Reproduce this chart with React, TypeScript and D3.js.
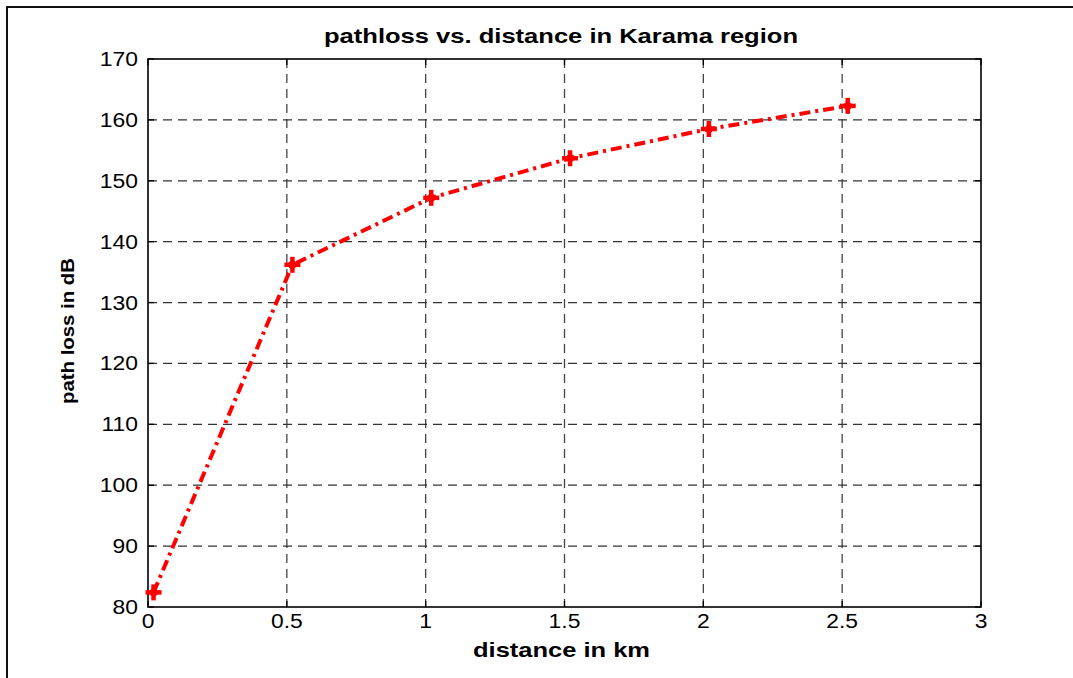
import React from "react";
import * as d3 from "d3";

const distances = [0.02, 0.52, 1.02, 1.52, 2.02, 2.52];
const pathLoss = [82.4, 136.2, 147.2, 153.7, 158.5, 162.3];
const xTicks = [0, 0.5, 1, 1.5, 2, 2.5, 3];
const yTicks = [80, 90, 100, 110, 120, 130, 140, 150, 160, 170];
const xTickLabels = ["0", "0.5", "1", "1.5", "2", "2.5", "3"];
const titleText = "pathloss vs. distance in Karama region";
const xLabelText = "distance in km";
const yLabelText = "path loss in dB";

const W = 1073;
const H = 678;
const L = 148, R = 981, T = 59, B = 607;

export default function App() {
  const x = d3.scaleLinear().domain([0, 3]).range([L, R]);
  const y = d3.scaleLinear().domain([80, 170]).range([B, T]);
  const line = d3.line<number>().x((_, i) => x(distances[i])).y((d) => y(d));
  const font = "'Liberation Sans', Arial, sans-serif";
  const sx = 1.09;

  return (
    <svg width={W} height={H} style={{ position: "absolute", left: 0, top: 0 }}>
      <rect x={0} y={0} width={W} height={H} fill="#fff" />
      <rect x={7} y={7} width={W + 20} height={H + 20} fill="none" stroke="#111" strokeWidth={2} />
      {/* grid */}
      {xTicks.slice(1, -1).map((t) => (
        <line key={"gx" + t} x1={x(t)} x2={x(t)} y1={T} y2={B} stroke="#444" strokeWidth={1.3} strokeDasharray="9,6" />
      ))}
      {yTicks.slice(1, -1).map((t) => (
        <line key={"gy" + t} x1={L} x2={R} y1={y(t)} y2={y(t)} stroke="#333" strokeWidth={1.3} strokeDasharray="9,6" />
      ))}
      {/* ticks */}
      {xTicks.map((t) => (
        <g key={"tx" + t}>
          <line x1={x(t)} x2={x(t)} y1={B} y2={B - 6} stroke="#000" strokeWidth={1.3} />
          <line x1={x(t)} x2={x(t)} y1={T} y2={T + 6} stroke="#000" strokeWidth={1.3} />
        </g>
      ))}
      {yTicks.map((t) => (
        <g key={"ty" + t}>
          <line x1={L} x2={L + 6} y1={y(t)} y2={y(t)} stroke="#000" strokeWidth={1.3} />
          <line x1={R} x2={R - 6} y1={y(t)} y2={y(t)} stroke="#000" strokeWidth={1.3} />
        </g>
      ))}
      <rect x={L} y={T} width={R - L} height={B - T} fill="none" stroke="#000" strokeWidth={1.6} />
      {/* tick labels */}
      {xTicks.map((t, i) => (
        <text
          key={"lx" + t}
          transform={`translate(${x(t)}, ${B + 21}) scale(${sx}, 1)`}
          textAnchor="middle"
          fontFamily={font}
          fontSize={21}
          fill="#000"
        >
          {xTickLabels[i]}
        </text>
      ))}
      {yTicks.map((t) => (
        <text
          key={"ly" + t}
          transform={`translate(${L - 10}, ${y(t) + 7}) scale(${sx}, 1)`}
          textAnchor="end"
          fontFamily={font}
          fontSize={21}
          fill="#000"
        >
          {t}
        </text>
      ))}
      {/* data */}
      <path d={line(pathLoss) || ""} fill="none" stroke="#ff0000" strokeWidth={4} strokeDasharray="11,5,3,5" />
      {pathLoss.map((v, i) => {
        const cx = x(distances[i]);
        const cy = y(v);
        return (
          <g key={"m" + i} stroke="#ff0000" strokeWidth={4.5}>
            <line x1={cx - 8} x2={cx + 8} y1={cy} y2={cy} />
            <line x1={cx} x2={cx} y1={cy - 8} y2={cy + 8} />
            <circle cx={cx} cy={cy} r={4} fill="#ff0000" stroke="none" />
          </g>
        );
      })}
      {/* labels */}
      <text
        x={561}
        y={43}
        textAnchor="middle"
        fontFamily={font}
        fontWeight="bold"
        fontSize={21}
        textLength={474}
        lengthAdjust="spacingAndGlyphs"
        fill="#000"
      >
        {titleText}
      </text>
      <text
        x={561.5}
        y={657}
        textAnchor="middle"
        fontFamily={font}
        fontWeight="bold"
        fontSize={21}
        textLength={177}
        lengthAdjust="spacingAndGlyphs"
        fill="#000"
      >
        {xLabelText}
      </text>
      <text
        transform={`translate(74, 331) rotate(-90)`}
        textAnchor="middle"
        fontFamily={font}
        fontWeight="bold"
        fontSize={18}
        textLength={146}
        lengthAdjust="spacingAndGlyphs"
        fill="#000"
      >
        {yLabelText}
      </text>
    </svg>
  );
}
